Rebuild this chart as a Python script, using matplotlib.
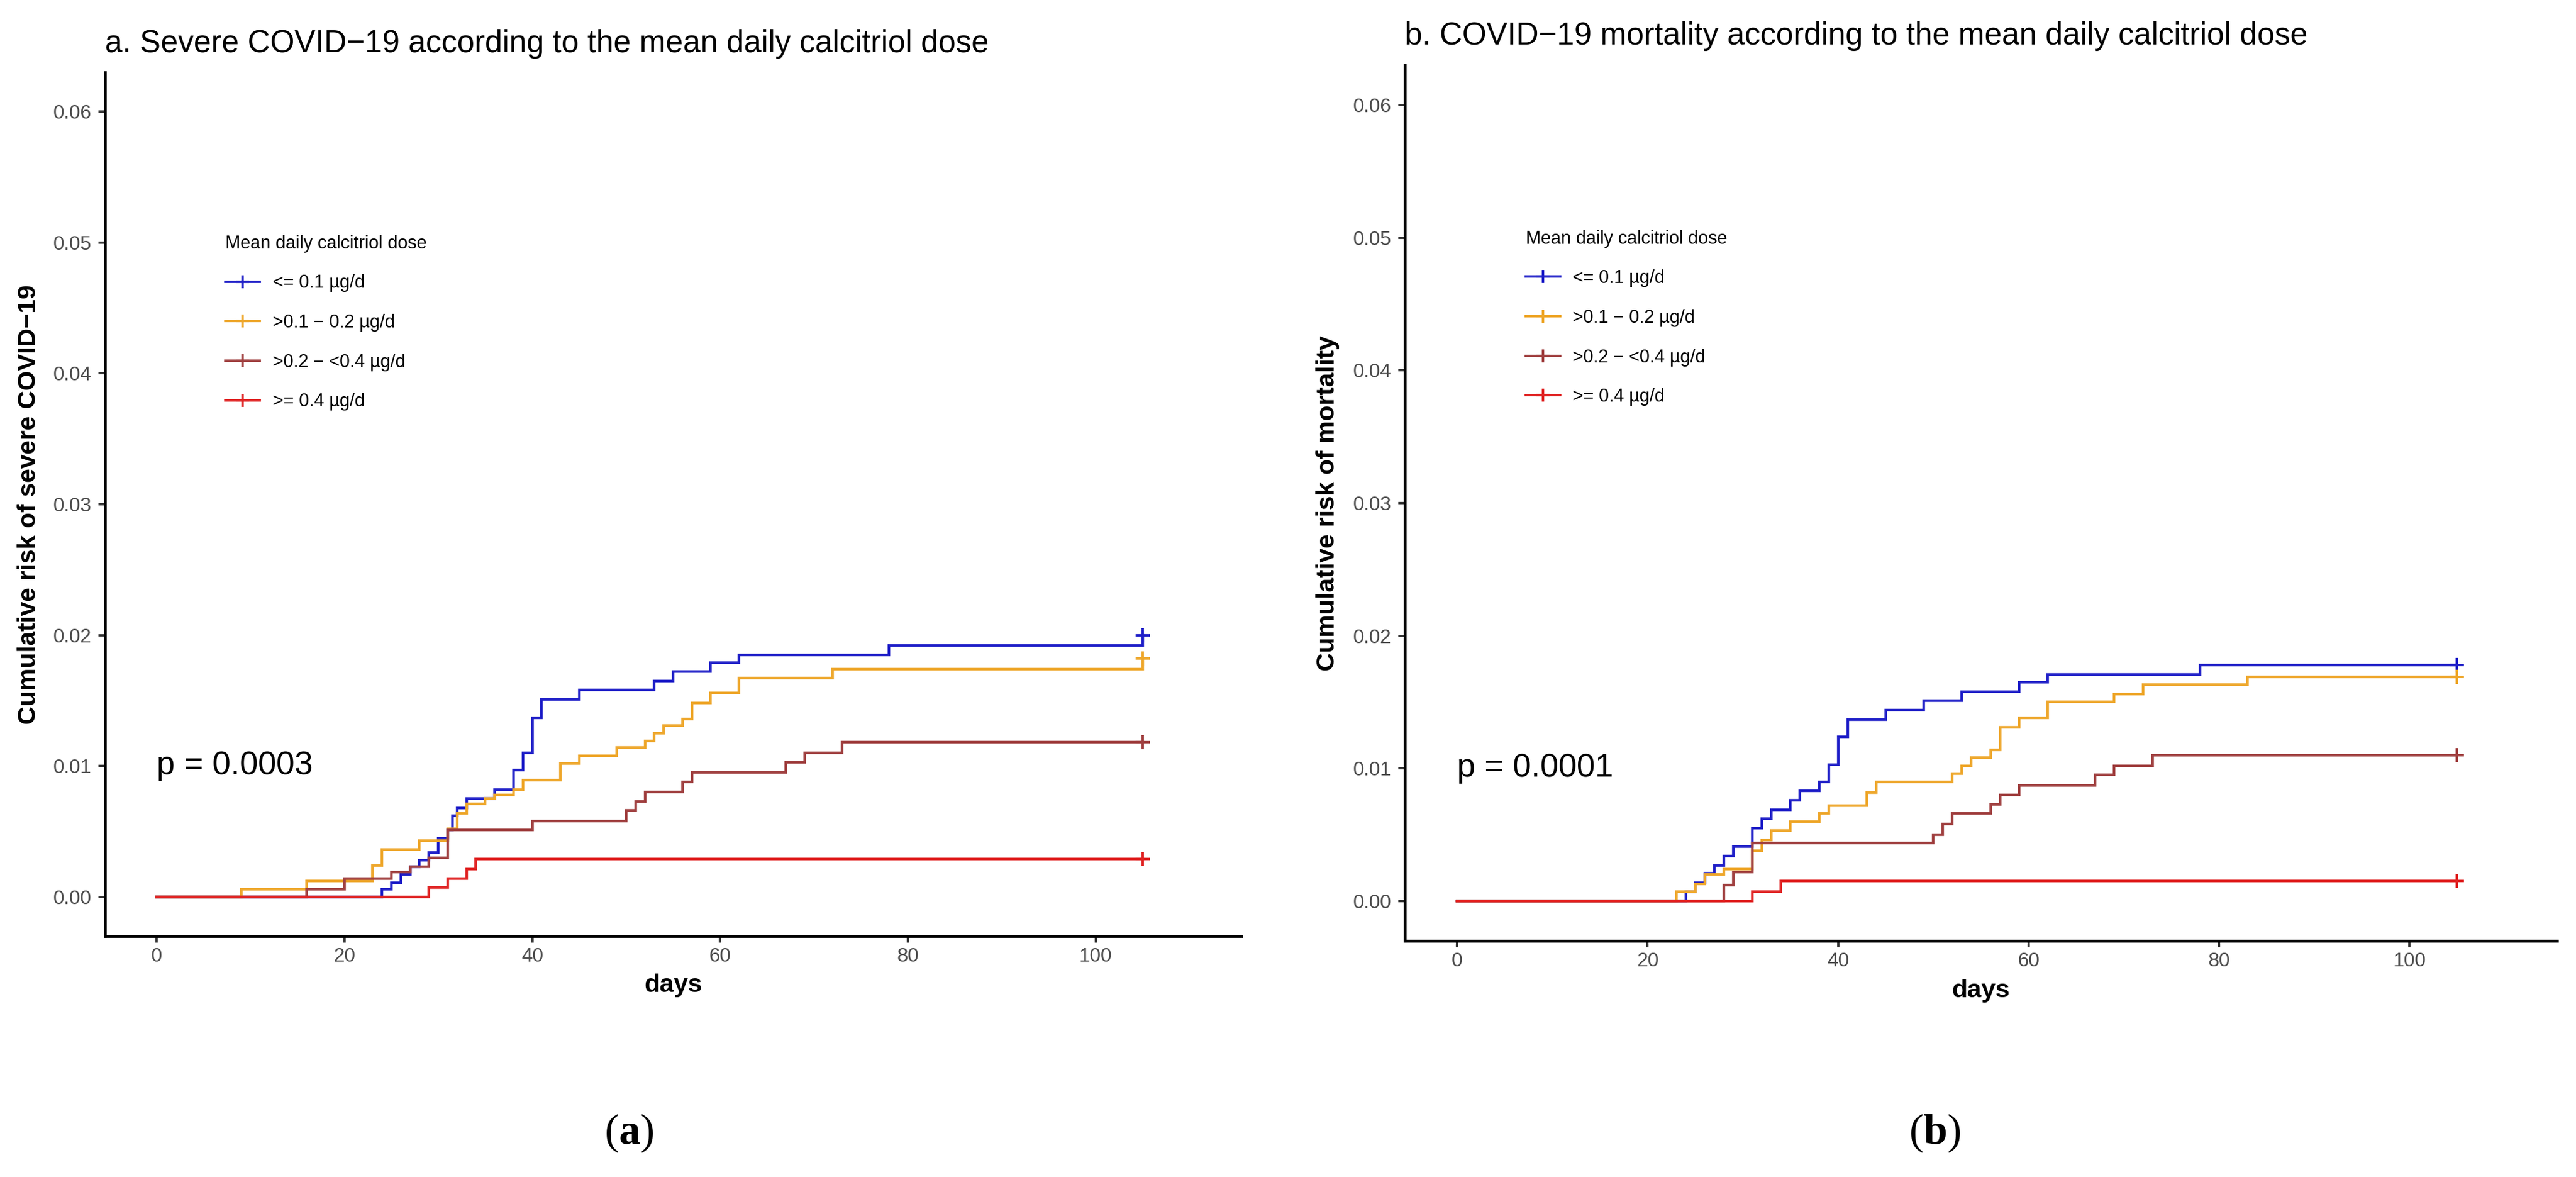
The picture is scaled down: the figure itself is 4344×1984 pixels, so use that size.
import matplotlib
matplotlib.use("Agg")
import matplotlib.pyplot as plt
from matplotlib.lines import Line2D

plt.rcParams['font.family'] = ['Liberation Sans', 'DejaVu Sans']
plt.rcParams['mathtext.fontset'] = 'custom'
plt.rcParams['mathtext.rm'] = 'Liberation Serif'
plt.rcParams['mathtext.bf'] = 'Liberation Serif:bold'

# group labels and colours
groups = ['<= 0.1 µg/d', '>0.1 − 0.2 µg/d', '>0.2 − <0.4 µg/d', '>= 0.4 µg/d']
colors = ['#2020c8', '#eea72c', '#a04040', '#e02424']
end_day = 105

# panel a: severe COVID-19 (event days and cumulative risk after each step)
a_blue_t = [0, 24, 25, 26, 27, 28, 29, 30, 31, 31.5, 32, 33, 36, 38, 39, 40, 41, 45, 53, 55, 59, 62, 78, 105]
a_blue_v = [0, .0006, .0011, .0017, .0023, .0028, .0034, .0045, .0051, .0062, .0068, .0075, .0082, .0097,
            .0110, .0137, .0151, .0158, .0165, .0172, .0179, .0185, .0192, .0200]
a_yel_t = [0, 9, 16, 23, 24, 28, 31, 32, 33, 35, 36, 38, 39, 43, 45, 49, 52, 53, 54, 56, 57, 59, 62, 72, 105]
a_yel_v = [0, .0006, .0012, .0024, .0036, .0043, .0052, .0064, .0071, .0075, .0078, .0082, .0089, .0102,
           .0108, .0114, .0119, .0125, .0131, .0136, .0148, .0156, .0167, .0174, .0182]
a_brn_t = [0, 16, 20, 25, 27, 29, 31, 40, 50, 51, 52, 56, 57, 67, 69, 73]
a_brn_v = [0, .0006, .0014, .0019, .0023, .0030, .0051, .0058, .0066, .0073, .0080, .0088, .0095, .0103, .0110, .0118]
a_red_t = [0, 29, 31, 33, 34]
a_red_v = [0, .0007, .0014, .0021, .0029]

# panel b: COVID-19 mortality
b_blue_t = [0, 24, 25, 26, 27, 28, 29, 31, 32, 33, 35, 36, 38, 39, 40, 41, 45, 49, 53, 59, 62, 78]
b_blue_v = [0, .0007, .0014, .0021, .0027, .0034, .0041, .0055, .0062, .0069, .0076, .0083, .0090, .0103,
            .0124, .0137, .0144, .0151, .0158, .0165, .0171, .0178]
b_yel_t = [0, 23, 25, 26, 28, 31, 32, 33, 35, 38, 39, 43, 44, 52, 53, 54, 56, 57, 59, 62, 69, 72, 83]
b_yel_v = [0, .0007, .0013, .0020, .0024, .0038, .0046, .0053, .0060, .0066, .0072, .0082, .0090, .0096,
           .0102, .0108, .0114, .0131, .0138, .0150, .0156, .0163, .0169]
b_brn_t = [0, 28, 29, 31, 50, 51, 52, 56, 57, 59, 67, 69, 73]
b_brn_v = [0, .0012, .0022, .0044, .0050, .0058, .0066, .0073, .0080, .0087, .0095, .0102, .0110]
b_red_t = [0, 31, 34]
b_red_v = [0, .0007, .0015]

xticks = [0, 20, 40, 60, 80, 100]
yticks = [0.00, 0.01, 0.02, 0.03, 0.04, 0.05, 0.06]

fig = plt.figure(figsize=(43.44, 19.84), dpi=100)
ax_a = fig.add_axes([0.04075, 0.20464, 0.44107, 0.73387])
ax_b = fig.add_axes([0.54535, 0.20060, 0.44729, 0.74395])


def draw_panel(ax, series, title, ylabel, pval, leg_x):
    for (t, v), c in zip(series, colors):
        t = list(t)
        v = list(v)
        if t[-1] < end_day:
            t.append(end_day)
            v.append(v[-1])
        ax.step(t, v, where='post', color=c, lw=3.2, solid_joinstyle='miter')
        ax.plot([end_day], [v[-1]], marker='+', color=c, ms=17, mew=3, ls='none')

    ax.set_xlim(-5.5, 115.5)
    ax.set_ylim(-0.003, 0.063)
    ax.set_xticks(xticks)
    ax.set_yticks(yticks)
    ax.set_yticklabels(['%.2f' % y for y in yticks])
    for s in ['top', 'right']:
        ax.spines[s].set_visible(False)
    for s in ['left', 'bottom']:
        ax.spines[s].set_linewidth(3.5)
        ax.spines[s].set_color('black')
    ax.tick_params(axis='both', length=8, width=2.8, color='#333333',
                   labelsize=24, labelcolor='#4d4d4d')
    ax.tick_params(axis='y', pad=8)
    ax.tick_params(axis='x', pad=6)

    ax.set_xlabel('days', fontsize=31, fontweight='bold')
    ax.xaxis.set_label_coords(0.5, -0.057)
    ax.xaxis.label.set_va('center')
    ax.set_ylabel(ylabel, fontsize=31, fontweight='bold')
    ax.yaxis.set_label_coords(-0.067, 0.5)
    ax.yaxis.label.set_va('center')

    ax.text(0, 1.0235, title, transform=ax.transAxes, fontsize=38,
            ha='left', va='baseline', color='black')
    ax.text(0, 0.01, pval, fontsize=40, ha='left', va='center')

    handles = [Line2D([], [], color=c, lw=3, marker='+', ms=16, mew=3) for c in colors]
    ax.legend(handles, groups, title='Mean daily calcitriol dose', loc='upper left',
              bbox_to_anchor=(leg_x, 0.812), frameon=False, fontsize=22,
              title_fontsize=22, alignment='left', handlelength=1.9,
              handletextpad=0.7, labelspacing=1.2, borderpad=0, borderaxespad=0)


draw_panel(ax_a, [(a_blue_t, a_blue_v), (a_yel_t, a_yel_v), (a_brn_t, a_brn_v), (a_red_t, a_red_v)],
           'a. Severe COVID−19 according to the mean daily calcitriol dose',
           'Cumulative risk of severe COVID−19', 'p = 0.0003', 0.106)
draw_panel(ax_b, [(b_blue_t, b_blue_v), (b_yel_t, b_yel_v), (b_brn_t, b_brn_v), (b_red_t, b_red_v)],
           'b. COVID−19 mortality according to the mean daily calcitriol dose',
           'Cumulative risk of mortality', 'p = 0.0001', 0.105)

# panel captions
fig.text(1061 / 4344, 1 - 1910 / 1984, r'($\mathbf{a}$)', fontsize=52,
         family='Liberation Serif', ha='center', va='center')
fig.text(3263 / 4344, 1 - 1910 / 1984, r'($\mathbf{b}$)', fontsize=52,
         family='Liberation Serif', ha='center', va='center')

fig.savefig('out.png', dpi=100, facecolor='white')
